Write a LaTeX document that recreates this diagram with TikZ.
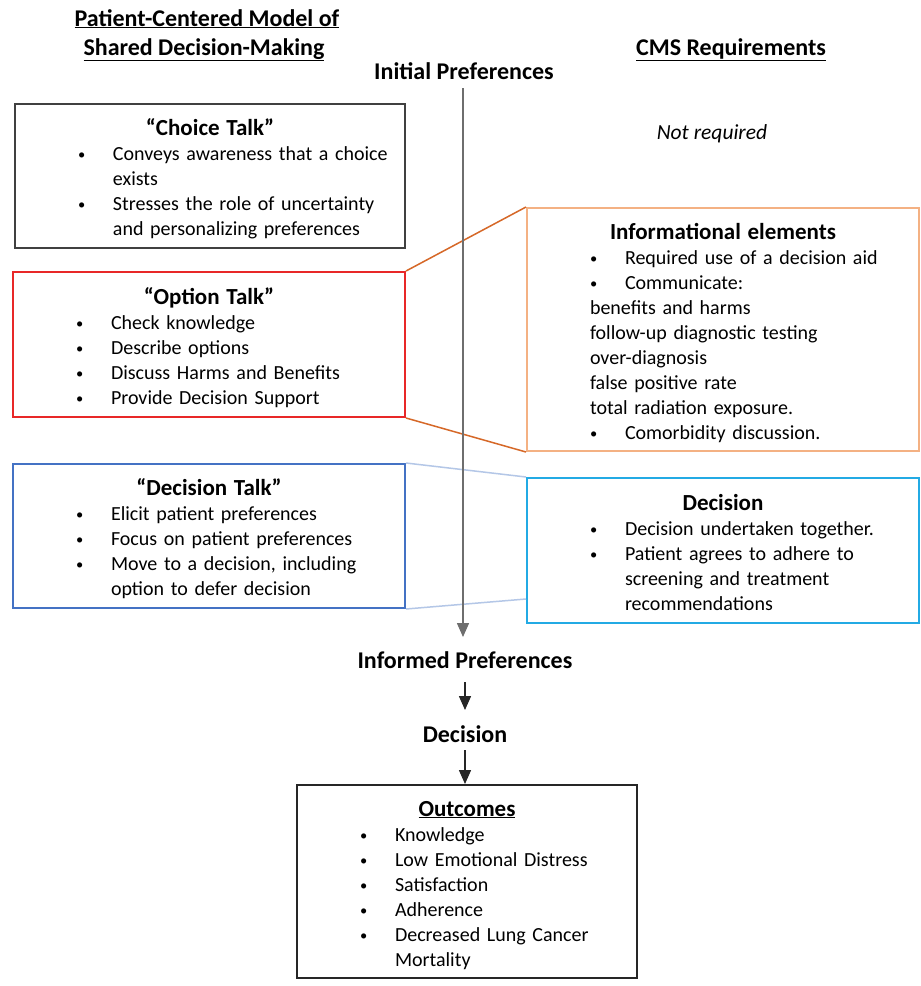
\documentclass[tikz,border=0pt]{standalone}
\usepackage{fontspec}
\setmainfont{Carlito}
\usetikzlibrary{arrows.meta}

\definecolor{choicecol}{RGB}{64,64,64}
\definecolor{optcol}{RGB}{232,40,40}
\definecolor{infocol}{RGB}{244,177,131}
\definecolor{linkor}{RGB}{214,104,40}
\definecolor{talkcol}{RGB}{68,114,196}
\definecolor{agreecol}{RGB}{35,170,228}
\definecolor{linkbl}{RGB}{180,199,231}
\definecolor{axiscol}{RGB}{110,110,110}

% bullet line, plain sub line, continued line, centred box title, last line
\newcommand{\smallbul}{\raisebox{1pt}{\fontsize{14.5}{25}\selectfont\textbullet}}
\newcommand{\bpt}[1]{\hspace*{63pt}\makebox[35pt][l]{\smallbul}#1}
\newcommand{\subl}[1]{\hspace*{63pt}#1}
\newcommand{\cont}[1]{\hspace*{98pt}#1}
\newcommand{\btitle}[1]{\makebox[\hsize][c]{\rule{0pt}{31pt}\fontsize{23}{25}\selectfont\bfseries #1}}
\newcommand{\lastl}{\rule[-12pt]{0pt}{0pt}}

\begin{document}
\begin{tikzpicture}[x=1pt, y=-1pt,
  boxa/.style={draw, line width=2pt, inner xsep=0pt, inner ysep=0pt, anchor=north west,
    align=left, font=\fontsize{20}{25}\selectfont},
  hd/.style={font=\fontsize{24}{28}\selectfont\bfseries, inner sep=0pt, anchor=base},
  stage/.style={font=\fontsize{24}{28}\selectfont\bfseries, inner sep=0pt, anchor=base},
  tip/.style={-{Triangle[length=14pt, width=12pt]}}]

\fill[white] (0,0) rectangle (921,986);
\useasboundingbox (0,0) rectangle (921,986);

% column headers
\node[hd] (hdl1) at (207,26) {\underline{Patient-Centered Model of}};
\node[hd] (hdl2) at (204,55) {\underline{Shared Decision-Making}};
\node[hd] (hdr) at (731,55) {\underline{CMS Requirements}};
\node[stage] (init) at (464,79) {Initial Preferences};

\node[font=\fontsize{21.5}{25}\selectfont\itshape, anchor=base, inner sep=0pt] (notreq) at (712,139) {Not required};

% left column
\node[boxa, draw=choicecol, text width=390pt, minimum height=144pt] (choice) at (14,103) {%
  \btitle{“Choice Talk”}\\
  \bpt{Conveys awareness that a choice}\\
  \cont{exists}\\
  \bpt{Stresses the role of uncertainty}\\
  \cont{and personalizing preferences}\lastl};

\node[boxa, draw=optcol, text width=392pt, minimum height=145pt] (option) at (12,271) {%
  \btitle{“Option Talk”}\\
  \bpt{Check knowledge}\\
  \bpt{Describe options}\\
  \bpt{Discuss Harms and Benefits}\\
  \bpt{Provide Decision Support}\lastl};

\node[boxa, draw=talkcol, text width=392pt, minimum height=144pt] (decide) at (12,463) {%
  \btitle{“Decision Talk”}\\
  \bpt{Elicit patient preferences}\\
  \bpt{Focus on patient preferences}\\
  \bpt{Move to a decision, including}\\
  \cont{option to defer decision}\lastl};

% right column
\node[boxa, draw=infocol, text width=392pt, minimum height=243pt] (info) at (526,207) {%
  \btitle{Informational elements}\\
  \bpt{Required use of a decision aid}\\
  \bpt{Communicate:}\\
  \subl{benefits and harms}\\
  \subl{follow-up diagnostic testing}\\
  \subl{over-diagnosis}\\
  \subl{false positive rate}\\
  \subl{total radiation exposure.}\\
  \bpt{Comorbidity discussion.}\lastl};

\node[boxa, draw=agreecol, text width=392pt, minimum height=145pt] (agree) at (526,477) {%
  \btitle{Decision}\\
  \bpt{Decision undertaken together.}\\
  \bpt{Patient agrees to adhere to}\\
  \cont{screening and treatment}\\
  \cont{recommendations}\lastl};

% bottom
\node[stage] (informed) at (465,668) {Informed Preferences};
\node[stage] (dec) at (465,742) {Decision};

\node[boxa, draw=black!85, text width=340pt, minimum height=193pt] (outc) at (296,784) {%
  \btitle{\underline{Outcomes}}\\
  \bpt{Knowledge}\\
  \bpt{Low Emotional Distress}\\
  \bpt{Satisfaction}\\
  \bpt{Adherence}\\
  \bpt{Decreased Lung Cancer}\\
  \cont{Mortality}\lastl};

% links between columns
\draw[linkor, line width=1.5pt] (option.north east) -- (info.north west);
\draw[linkor, line width=1.5pt] (option.south east) -- (info.south west);
\draw[linkbl, line width=1.5pt] (decide.north east) -- (agree.north west);
\draw[linkbl, line width=1.5pt] (decide.south east) -- ([yshift=25pt]agree.south west);

% flow
\draw[axiscol, line width=1.5pt, tip] ([xshift=-1pt,yshift=-9pt]init.base) -- ([xshift=-1pt,yshift=31pt]init.base |- informed.base);
\draw[black!85, line width=1.5pt, tip] ([yshift=-14pt]informed.base) -- ([yshift=32pt]dec.base);
\draw[black!85, line width=1.5pt, tip] ([yshift=-8pt]dec.base) -- (dec.base |- outc.north);

\end{tikzpicture}
\end{document}
